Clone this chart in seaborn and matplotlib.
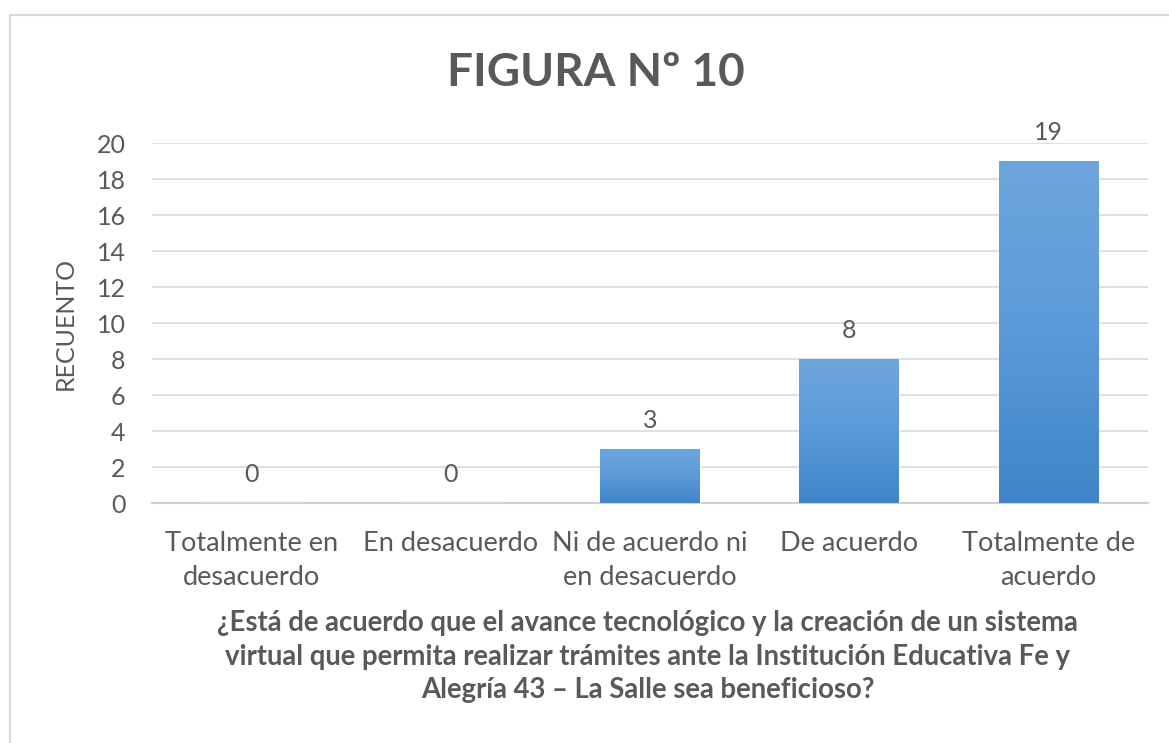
import seaborn as sns
import pandas as pd
import numpy as np
import matplotlib.pyplot as plt
from matplotlib.patches import Rectangle
from matplotlib.colors import LinearSegmentedColormap

categorias = ['Totalmente en\ndesacuerdo', 'En desacuerdo', 'Ni de acuerdo ni\nen desacuerdo',
              'De acuerdo', 'Totalmente de\nacuerdo']
recuento = [0, 0, 3, 8, 19]
y_ticks = [0, 2, 4, 6, 8, 10, 12, 14, 16, 18, 20]

titulo = 'FIGURA Nº 10'
pregunta = ('¿Está de acuerdo que el avance tecnológico y la creación de un sistema\n'
            'virtual que permita realizar trámites ante la Institución Educativa Fe y\n'
            'Alegría 43 – La Salle sea beneficioso?')

sns.set_style('white')
plt.rcParams['font.family'] = ['Lato', 'DejaVu Sans']
gris = '#595959'

res = pd.DataFrame({'cat': categorias, 'n': recuento})

fig = plt.figure(figsize=(11.69, 7.43), dpi=100)
ax = fig.add_axes([0.130, 0.323, 0.852, 0.4845])
sns.barplot(x='cat', y='n', data=res, color='#5294d6', width=0.5, saturation=1, ax=ax, zorder=3)

# degradado de las barras como en Excel
cmap = LinearSegmentedColormap.from_list('azul', ['#3f85c8', '#5b9ad9', '#6ea6dc'])
grad = np.linspace(0, 1, 256).reshape(-1, 1)
for p in ax.patches:
    x0, y0 = p.get_x(), p.get_y()
    w, h = p.get_width(), p.get_height()
    if h <= 0:
        continue
    im = ax.imshow(grad, cmap=cmap, aspect='auto', origin='lower',
                   extent=(x0, x0 + w, y0, y0 + h), zorder=4)
    im.set_clip_path(p)

ax.set_ylim(0, 20)
ax.set_xlim(-0.5, 4.5)
ax.set_yticks(y_ticks)
ax.grid(axis='y', color='#d9d9d9', linewidth=1.2, zorder=0)
for s in ['top', 'right', 'left']:
    ax.spines[s].set_visible(False)
ax.spines['bottom'].set_color('#d0d0d0')
ax.spines['bottom'].set_linewidth(1.5)
ax.tick_params(axis='both', length=0, colors=gris)
ax.tick_params(axis='y', labelsize=18, pad=19)
ax.tick_params(axis='x', labelsize=19.5, pad=20)
for lbl in ax.get_xticklabels():
    lbl.set_linespacing(1.45)

for i, v in enumerate(recuento):
    ax.text(i, v + 0.95, str(v), ha='center', va='bottom', fontsize=18, color=gris, clip_on=False)

ax.set_ylabel('RECUENTO', fontsize=18, color=gris, labelpad=14)
ax.set_xlabel('')

fig.text(0.510, 0.902, titulo, ha='center', va='center', fontsize=33, fontweight='bold', color=gris)
fig.text(0.554, 0.116, pregunta, ha='center', va='center', fontsize=19.8, fontweight='bold', color=gris,
         linespacing=1.35)

# marco del grafico
fig.add_artist(Rectangle((10 / 1169, -0.01), 1.1, 1 - 15 / 743 + 0.01, transform=fig.transFigure,
                         fill=False, edgecolor='#d9d9d9', linewidth=1.5))

plt.savefig('out.png', dpi=100)
